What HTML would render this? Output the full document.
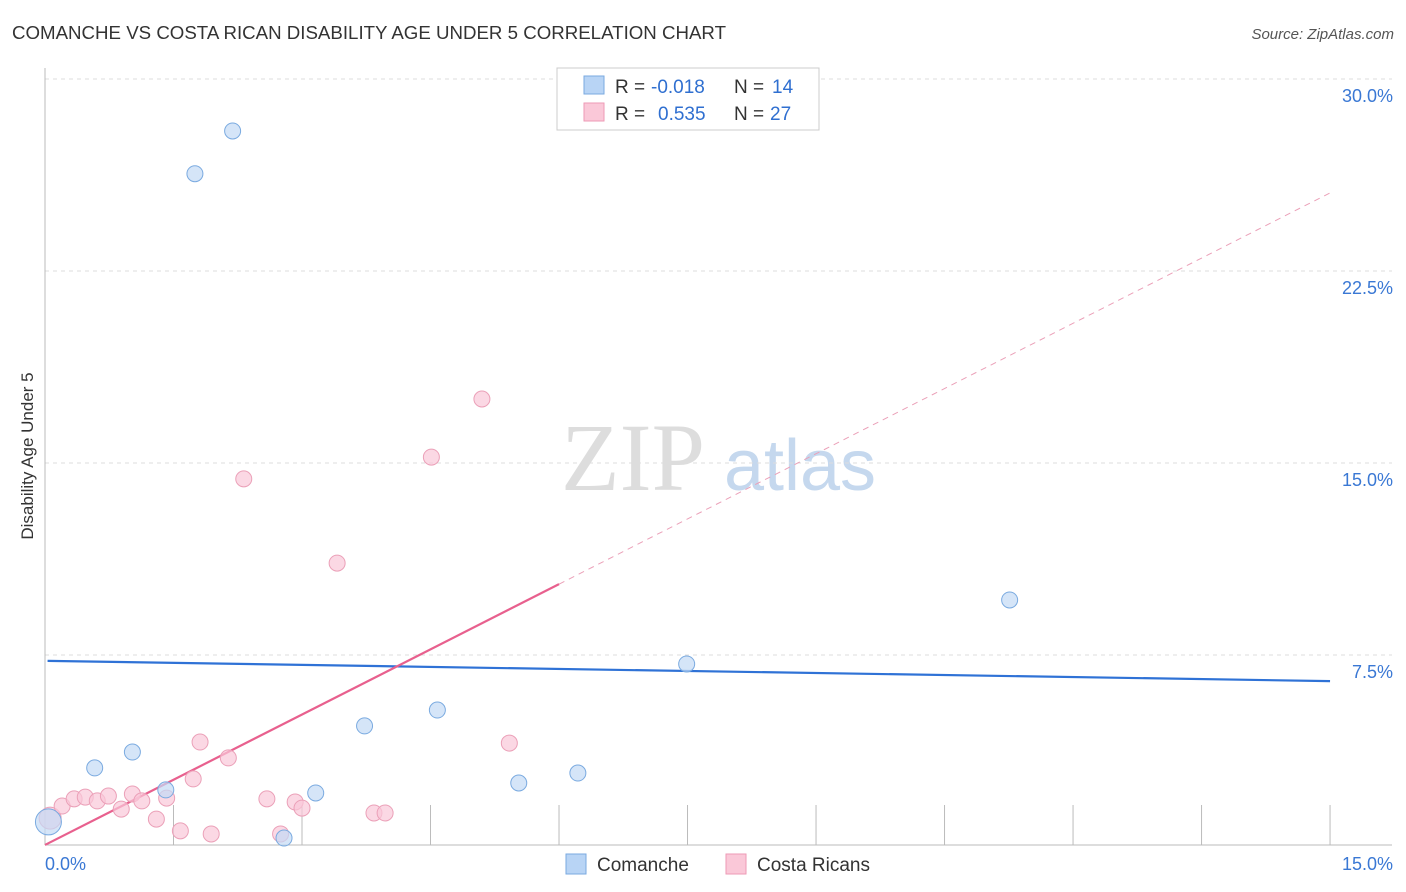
<!DOCTYPE html>
<html><head><meta charset="utf-8"><style>
body{margin:0;background:#fff;font-family:"Liberation Sans",sans-serif;}
svg{display:block}
</style></head><body>
<svg id="chart" width="1406" height="892">
<text x="12" y="39" font-size="18" fill="#333" textLength="714" lengthAdjust="spacingAndGlyphs">COMANCHE VS COSTA RICAN DISABILITY AGE UNDER 5 CORRELATION CHART</text>
<text x="1394" y="39" font-size="15" fill="#555" font-style="italic" text-anchor="end">Source: ZipAtlas.com</text>
<text x="33" y="456" font-size="17" fill="#333" text-anchor="middle" transform="rotate(-90 33 456)">Disability Age Under 5</text>
<g id="watermark"><text x="633" y="490" font-size="96" font-family="Liberation Serif" fill="#ddd" text-anchor="middle">ZIP</text><text x="800" y="490" font-size="72" fill="#c5d8ee" text-anchor="middle">atlas</text></g>
<g id="grid"></g><g id="axes"></g><g id="lines"></g><g id="pts"></g>
<g>
<rect x="557" y="68" width="262" height="62" fill="#fff" stroke="#ccc"/>
<rect x="584" y="76" width="20" height="18" fill="#b8d4f5" stroke="#7aaae0"/>
<text x="615" y="93" font-size="19" fill="#333">R =</text>
<text x="651" y="93" font-size="19" fill="#2f6fd0">-0.018</text>
<text x="734" y="93" font-size="19" fill="#333">N =</text>
<text x="772" y="93" font-size="19" fill="#2f6fd0">14</text>
<rect x="584" y="103" width="20" height="18" fill="#fac8d8" stroke="#ee9ab6"/>
<text x="615" y="120" font-size="19" fill="#333">R =</text>
<text x="658" y="120" font-size="19" fill="#2f6fd0">0.535</text>
<text x="734" y="120" font-size="19" fill="#333">N =</text>
<text x="770" y="120" font-size="19" fill="#2f6fd0">27</text>
</g>
<g>
<rect x="566" y="854" width="20" height="20" fill="#b8d4f5" stroke="#7aaae0"/><text x="597" y="871" font-size="19" fill="#333">Comanche</text>
<rect x="726" y="854" width="20" height="20" fill="#fac8d8" stroke="#ee9ab6"/><text x="757" y="871" font-size="19" fill="#333">Costa Ricans</text>
</g>
</svg>
<script>
const blueX=[0.58,1.02,1.41,1.75,2.19,2.79,3.16,3.73,4.58,5.53,6.22,7.49,11.26,0.04];
const blueY=[3.09,3.71,2.23,26.3,27.97,0.35,2.11,4.73,5.35,2.5,2.89,7.15,9.65,0.98];
const pinkX=[0.06,0.2,0.34,0.47,0.61,0.74,0.89,1.02,1.13,1.3,1.42,1.58,1.73,1.81,1.94,2.14,2.32,2.59,2.75,2.92,3.0,3.41,3.84,3.97,4.51,5.1,5.42];
const pinkY=[1.13,1.6,1.88,1.95,1.8,1.99,1.48,2.07,1.8,1.09,1.91,0.63,2.66,4.1,0.51,3.48,14.38,1.88,0.51,1.76,1.52,11.09,1.33,1.33,15.23,17.5,4.06];
const yTicks=[7.5,15,22.5,30];
const yTickLabels=["7.5%","15.0%","22.5%","30.0%"];
const blueTrend=[7.27,6.48];
const pinkTrend=[0.08,25.55];
const pinkSolidEnd=6.0;
const X=v=>45+v*85.67, Y=v=>847-v*25.6;
const NS="http://www.w3.org/2000/svg";
function mk(p,t,a){const e=document.createElementNS(NS,t);for(const k in a)e.setAttribute(k,a[k]);document.getElementById(p).appendChild(e);return e;}
yTicks.forEach((t,i)=>{
 const l=mk('grid','line',{x1:45,x2:1392,y1:Y(t),y2:Y(t),stroke:'#ddd','stroke-dasharray':'4 4'});
 
 
 const tx=mk('grid','text',{x:1393,y:Y(t)+23,'font-size':18,fill:'#3a78d4','text-anchor':'end'});tx.textContent=yTickLabels[i];
 
 
});
mk('axes','line',{x1:45,x2:45,y1:68,y2:845,stroke:'#bbb'});
mk('axes','line',{x1:45,x2:1392,y1:845,y2:845,stroke:'#bbb'});
for(let i=1;i<=10;i++){const t=mk('axes','line',{x1:X(i*1.5),x2:X(i*1.5),y1:805,y2:845,stroke:'#bbb'});
 
 }
let a=mk('axes','text',{x:45,y:870,'font-size':18,fill:'#3a78d4'});a.textContent='0.0%';


a=mk('axes','text',{x:1393,y:870,'font-size':18,fill:'#3a78d4','text-anchor':'end'});a.textContent='15.0%';


let bl=mk('lines','line',{x1:X(0.03),x2:X(15),y1:Y(blueTrend[0]),y2:Y(blueTrend[1]),stroke:'#2f72d6','stroke-width':2.2});


const py=x=>pinkTrend[0]+(pinkTrend[1]-pinkTrend[0])*x/15;
let ps=mk('lines','line',{x1:X(0),x2:X(pinkSolidEnd),y1:Y(py(0)),y2:Y(py(pinkSolidEnd)),stroke:'#e8608e','stroke-width':2.2});


let pd=mk('lines','line',{x1:X(pinkSolidEnd),x2:X(15),y1:Y(py(pinkSolidEnd)),y2:Y(py(15)),stroke:'#eba0b8','stroke-width':1,'stroke-dasharray':'6 5'});


pinkX.forEach((x,i)=>{const c=mk('pts','circle',{cx:X(x),cy:Y(pinkY[i]),r:i==0?11:8,fill:'#fac8d8','fill-opacity':0.7,stroke:'#eba0b8'});
 
 });
blueX.forEach((x,i)=>{const c=mk('pts','circle',{cx:X(x),cy:Y(blueY[i]),r:i==13?13:8,fill:'#c3daf5','fill-opacity':0.7,stroke:'#7aaae0'});
 
 });
</script>
</body></html>
